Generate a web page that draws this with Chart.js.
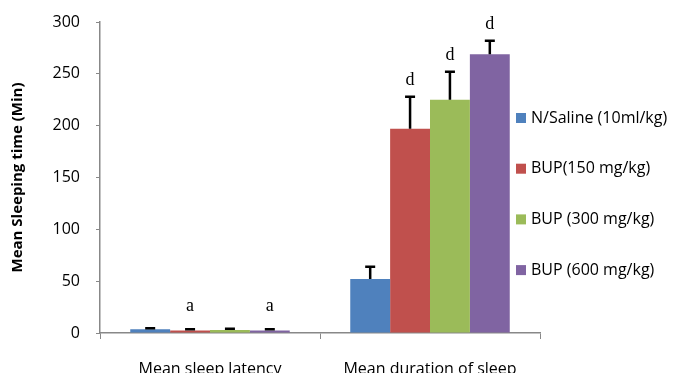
<!DOCTYPE html>
<html>
<head>
<meta charset="utf-8">
<script src="https://cdn.jsdelivr.net/npm/chart.js@4.4.1/dist/chart.umd.min.js"></script>
<style>
  html, body { margin: 0; padding: 0; background: #fff; }
  #wrap { width: 673px; height: 373px; }
</style>
</head>
<body>
<div id="wrap"><canvas id="sleepChart" width="673" height="373"></canvas></div>
<script>
// Categories and series
const categories = ['Mean sleep latency', 'Mean duration of sleep'];
const seriesNames = ['N/Saline (10ml/kg)', 'BUP(150 mg/kg)', 'BUP (300 mg/kg)', 'BUP (600 mg/kg)'];
const seriesColors = ['#4F81BD', '#C0504D', '#9BBB59', '#8064A2'];

const salineValues = [3.5, 52];
const bup150Values = [2.5, 197];
const bup300Values = [3, 225];
const bup600Values = [2.5, 269];

// Standard error (upper) for each bar
const salineErr = [1, 12];
const bup150Err = [1, 31];
const bup300Err = [1, 27];
const bup600Err = [1, 13];

// Significance letters above bars
const salineSig = ['', ''];
const bup150Sig = ['a', 'd'];
const bup300Sig = ['', 'd'];
const bup600Sig = ['a', 'd'];

const yTicks = [0, 50, 100, 150, 200, 250, 300];

const allValues = [salineValues, bup150Values, bup300Values, bup600Values];
const allErrors = [salineErr, bup150Err, bup300Err, bup600Err];
const allSig = [salineSig, bup150Sig, bup300Sig, bup600Sig];

const FONT = '"Open Sans"';

// Draw the error bars and letters on top of the bars
const extrasPlugin = {
    id: 'extras',
    afterDatasetsDraw(chart) {
        const ctx = chart.ctx;
        const y = chart.scales.y;
        ctx.save();
        chart.data.datasets.forEach(function (ds, i) {
            const meta = chart.getDatasetMeta(i);
            meta.data.forEach(function (bar, j) {
                const top = y.getPixelForValue(allValues[i][j] + allErrors[i][j]);
                const base = bar.y;
                ctx.strokeStyle = '#000';
                ctx.lineWidth = 2.5;
                ctx.beginPath();
                ctx.moveTo(bar.x, base);
                ctx.lineTo(bar.x, top);
                ctx.moveTo(bar.x - 5, top);
                ctx.lineTo(bar.x + 5, top);
                ctx.stroke();

                const letter = allSig[i][j];
                if (letter) {
                    ctx.fillStyle = '#000';
                    ctx.font = '18px "Liberation Serif"';
                    ctx.textAlign = 'center';
                    ctx.textBaseline = 'alphabetic';
                    const ly = j === 0 ? 311 : top - 12;
                    ctx.fillText(letter, bar.x, ly);
                }
            });
        });
        ctx.restore();
    },
    afterDraw(chart) {
        // legend on the right
        const ctx = chart.ctx;
        ctx.save();
        ctx.font = '16px ' + FONT;
        ctx.textBaseline = 'middle';
        ctx.textAlign = 'left';
        seriesNames.forEach(function (name, i) {
            const ly = 118 + i * 50.7;
            ctx.fillStyle = seriesColors[i];
            ctx.fillRect(516, ly - 5, 10, 10);
            ctx.fillStyle = '#000';
            ctx.fillText(name, 531, ly);
        });
        ctx.restore();
    }
};

const ctx = document.getElementById('sleepChart').getContext('2d');
const sleepChart = new Chart(ctx, {
    type: 'bar',
    data: {
        labels: categories,
        datasets: seriesNames.map(function (name, i) {
            return {
                label: name,
                data: allValues[i],
                backgroundColor: seriesColors[i],
                borderWidth: 0,
                barPercentage: 1,
                categoryPercentage: 0.725
            };
        })
    },
    options: {
        responsive: false,
        animation: false,
        layout: { padding: { top: 22, right: 133, left: 0, bottom: 0 } },
        plugins: {
            legend: { display: false },
            tooltip: { enabled: false }
        },
        scales: {
            x: {
                grid: {
                    display: true,
                    offset: true,
                    drawOnChartArea: false,
                    drawTicks: true,
                    tickLength: 6,
                    color: '#888'
                },
                border: { display: true, color: '#888', width: 1.5 },
                ticks: {
                    color: '#000',
                    font: { family: FONT, size: 16 },
                    padding: 21
                },
                afterFit(scale) { scale.height = 40; }
            },
            y: {
                min: 0,
                max: 300,
                afterBuildTicks(scale) {
                    scale.ticks = yTicks.map(function (v) { return { value: v }; });
                },
                grid: {
                    display: true,
                    drawOnChartArea: false,
                    drawTicks: true,
                    tickLength: 4,
                    color: '#888'
                },
                border: { display: true, color: '#888', width: 1.5 },
                ticks: {
                    color: '#000',
                    font: { family: FONT, size: 16 },
                    padding: 16
                },
                title: {
                    display: true,
                    text: 'Mean Sleeping time (Min)',
                    color: '#000',
                    font: { family: FONT, size: 15, weight: 'bold' },
                    padding: { top: 9, bottom: 8 }
                },
                afterFit(scale) {
                    scale.width = 100;
                    // don't let tick padding push the plot area down
                    scale.paddingTop = 0;
                    scale.paddingBottom = 0;
                }
            }
        }
    },
    plugins: [extrasPlugin]
});
</script>
</body>
</html>
